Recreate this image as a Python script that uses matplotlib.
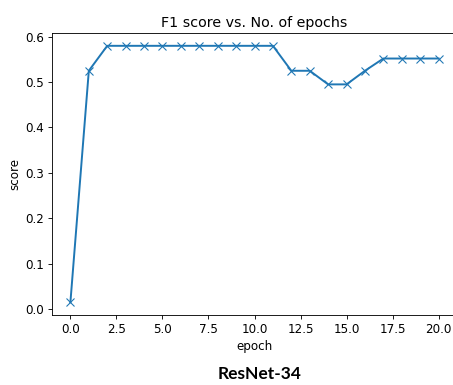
import matplotlib
matplotlib.use("Agg")
import matplotlib.pyplot as plt

epochs = list(range(21))
f1_scores = [0.015, 0.525, 0.58, 0.58, 0.58, 0.58, 0.58, 0.58, 0.58, 0.58, 0.58, 0.58,
             0.525, 0.525, 0.495, 0.495, 0.525, 0.552, 0.552, 0.552, 0.552]

DPI = 78
plt.rcParams['font.size'] = 11
plt.rcParams['axes.titlesize'] = 13.2
fig = plt.figure(figsize=(453 / DPI, 385 / DPI), dpi=DPI)
ax = fig.add_axes([52 / 453, 1 - 315 / 385, (457 - 52) / 453, (315 - 33) / 385])
ax.plot(epochs, f1_scores, '-x', color='#1f77b4', linewidth=1.8, markersize=7)
ax.spines['right'].set_visible(False)
ax.set_title("F1 score vs. No. of epochs")
ax.set_xlabel("epoch")
ax.set_ylabel("score")
fig.text(260 / 453, 1 - 374 / 385, "ResNet-34", ha='center', va='center',
         fontsize=16, fontweight='bold', family=['Lato', 'DejaVu Sans'])
fig.savefig("out.png", dpi=DPI)
